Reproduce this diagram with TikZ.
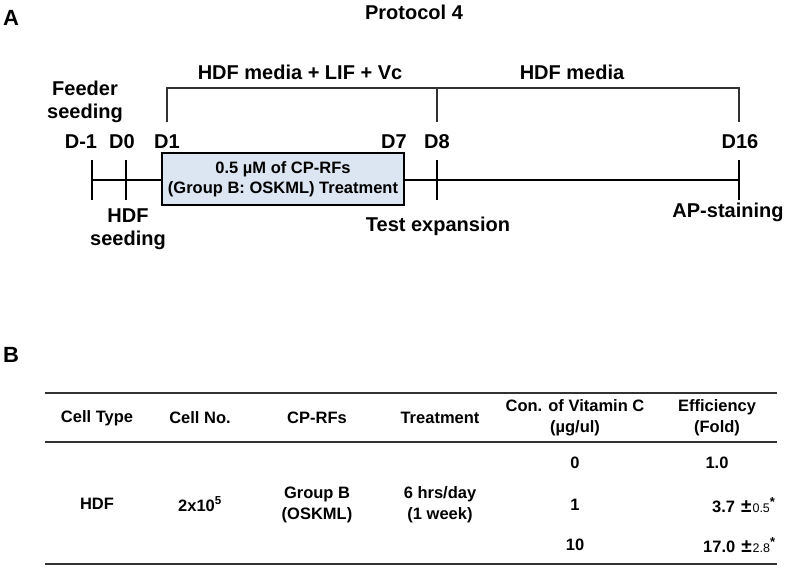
\documentclass[tikz,border=0pt]{standalone}
\usepackage{fontspec}
\setmainfont{Liberation Sans}
\definecolor{boxblue}{RGB}{220,230,242}
\definecolor{rulegray}{RGB}{50,50,50}
\newcommand{\errval}[1]{\hspace{6pt}{\fontsize{19}{20}\selectfont ±}\hspace{1pt}{\fontsize{12.5}{13}\selectfont\mdseries #1}\textsuperscript{\fontsize{13}{13}\selectfont *}}
\tikzset{
lbl/.style={font=\fontsize{20}{23}\selectfont\bfseries, align=center, inner sep=0pt},
tbl/.style={font=\fontsize{16.5}{21}\selectfont\bfseries, align=center, inner sep=0pt},
bracket/.style={line width=1.5pt, draw=rulegray},
axis/.style={line width=2.7pt, draw=black}
}
\begin{document}
\begin{tikzpicture}[x=1pt,y=-1pt]
\useasboundingbox (0,0) rectangle (790,568);
\node[lbl, font=\fontsize{22}{24}\selectfont\bfseries] (partA) at (11,18) {A};
\node[lbl] (title) at (414,12) {Protocol 4};
\node[lbl] (media1) at (300,72) {HDF media + LIF + Vc};
\node[lbl] (media2) at (572,72) {HDF media};
\coordinate (bl) at (167,88);
\coordinate (bm) at (437,88);
\coordinate (br) at (739,88);
\draw[bracket] (167,122) -- (bl) -- (br) -- (739,122);
\draw[bracket] (bm) -- (437,122);
\node[lbl] (feeder) at (85,102) {Feeder\\seeding};
\node[lbl] (dm1) at (81,142) {D-1};
\node[lbl] (d0) at (122,142) {D0};
\node[lbl] (d1) at (167,142) {D1};
\node[lbl] (d7) at (394,142) {D7};
\node[lbl] (d8) at (437,142) {D8};
\node[lbl] (d16) at (740,142) {D16};
\coordinate (tl) at (92,180);
\coordinate (tr) at (739,180);
\draw[axis] (tl) -- (tr);
\foreach \x in {92,126,437,739}
{
\draw[axis] (\x,160)--(\x,200);
}
\node[draw=black, line width=2.2pt, fill=boxblue, minimum width=242, minimum height=52, inner sep=0pt, align=center,
font=\fontsize{16.5}{20}\selectfont\bfseries] (treat) at (283,179) {0.5 µM of CP-RFs\\(Group B: OSKML) Treatment};
\node[lbl] (hdfseed) at (128,229) {HDF\\seeding};
\node[lbl] (test) at (438,226) {Test expansion};
\node[lbl] (ap) at (728,212) {AP-staining};
\node[lbl, font=\fontsize{22}{24}\selectfont\bfseries] (partB) at (11,355) {B};
\foreach \y in {393,442,564}
{
\draw[line width=2pt, rulegray] (45,\y)--(777,\y);
}
\node[tbl] (hType) at (97,418) {Cell Type};
\node[tbl] (hNo) at (200,418) {Cell No.};
\node[tbl] (hRF) at (317,418) {CP-RFs};
\node[tbl] (hTreat) at (440,418) {Treatment};
\node[tbl] (hVc) at (575,418) {Con. of Vitamin C\\(µg/ul)};
\node[tbl] (hEff) at (717,418) {Efficiency\\(Fold)};
\node[tbl] (cType) at (97,504) {HDF};
\node[tbl] (cNo) at (200,504) {2x10\textsuperscript{5}};
\node[tbl] (cRF) at (317,505) {Group B\\(OSKML)};
\node[tbl] (cTreat) at (440,505) {6 hrs/day\\(1 week)};
\node[tbl] (vc0) at (575,463) {0};
\node[tbl] (vc1) at (575,505) {1};
\node[tbl] (vc10) at (575,545) {10};
\node[tbl] (eff0) at (717,463) {1.0};
\node[tbl, anchor=west] (eff1) at (712,505) {3.7\errval{0.5}};
\node[tbl, anchor=west] (eff10) at (703,545) {17.0\errval{2.8}};
\end{tikzpicture}
\end{document}
